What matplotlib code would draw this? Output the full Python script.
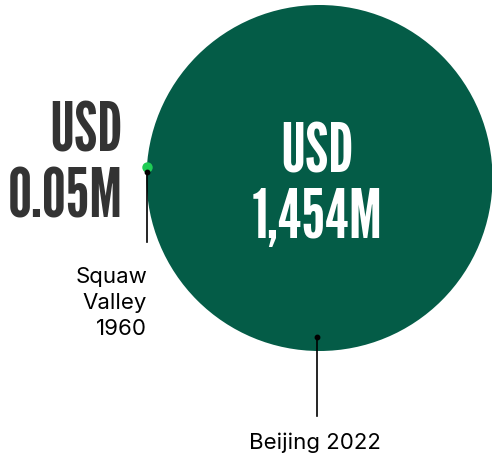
import matplotlib
matplotlib.use("Agg")
import matplotlib.pyplot as plt
import numpy as np
from matplotlib.patches import Circle

# Olympic Winter Games cost, USD million
games = ["Squaw\nValley\n1960", "Beijing 2022"]
cost = [0.05, 1454]
cost_labels = [["USD", "0.05M"], ["USD", "1,454M"]]

dark_green = "#045c47"
light_green = "#1fcc55"
txt_dark = "#333333"
head_font = "League Gothic"
body_font = ["Inter", "DejaVu Sans"]

fig = plt.figure(figsize=(4.92, 4.6), dpi=100)
ax = fig.add_axes([0, 0, 1, 1])
ax.set_xlim(0, 492)
ax.set_ylim(460, 0)
ax.set_aspect("equal")
ax.axis("off")

# area proportional to value
big_r = 173
scale = big_r / np.sqrt(cost[1])
cx, cy = 319.5, 179
ax.add_patch(Circle((cx, cy), scale * np.sqrt(cost[1]), color=dark_green, lw=0))

# small one is too tiny to see, so draw it as a fixed dot on the edge
sx, sy = 146.5, 168
ax.plot(sx, sy, "o", ms=7.5, color=light_green, mec="none", zorder=3)

# leader lines
ax.plot([sx, sx], [173, 243], color="black", lw=1.2, zorder=4)
ax.plot(sx, 173, "o", ms=3.2, color="black", zorder=4)
ax.plot([317, 317], [338, 417], color="black", lw=1.2, zorder=4)
ax.plot(317, 338, "o", ms=3.2, color="black", zorder=4)

# value labels, one line at a time
for line, base in zip(cost_labels[0], [152, 218]):
    ax.text(123, base, line, ha="right", va="baseline",
            fontsize=49, family=head_font, color=txt_dark)
for line, base in zip(cost_labels[1], [173, 238]):
    ax.text(317, base, line, ha="center", va="baseline",
            fontsize=49, family=head_font, color="white")

ax.text(147, 303, games[0], ha="right", va="center", multialignment="right",
        fontsize=16, family=body_font, color="black", linespacing=1.35)
ax.text(315, 443, games[1], ha="center", va="center",
        fontsize=16, family=body_font, color="black")

fig.savefig("out.png", dpi=100)
